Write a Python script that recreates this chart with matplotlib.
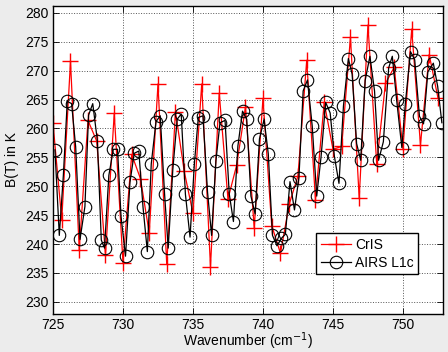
import matplotlib
matplotlib.use("Agg")
import matplotlib.pyplot as plt

plt.rcParams['font.family'] = ['Liberation Sans', 'DejaVu Sans']

# CrIS channels (0.625 cm-1 grid) and brightness temperatures
cris_wn = [725.0, 725.625, 726.25, 726.875, 727.5, 728.125, 728.75, 729.375, 730.0,
           730.625, 731.25, 731.875, 732.5, 733.125, 733.75, 734.375, 735.0, 735.625,
           736.25, 736.875, 737.5, 738.125, 738.75, 739.375, 740.0, 740.625, 741.25,
           741.875, 742.5, 743.125, 743.75, 744.375, 745.0, 745.625, 746.25, 746.875,
           747.5, 748.125, 748.75, 749.375, 750.0, 750.625, 751.25, 751.875, 752.5]
cris_bt = [260.9, 244.2, 271.6, 239.0, 261.4, 257.8, 238.1, 262.6, 236.8,
           255.5, 251.3, 241.9, 267.7, 236.5, 262.9, 252.6, 245.3, 267.7,
           236.1, 266.1, 247.8, 253.7, 263.7, 242.8, 265.2, 243.2, 238.4,
           246.9, 251.8, 271.8, 247.7, 264.5, 256.4, 256.9, 275.8, 247.9,
           277.9, 253.9, 267.8, 270.6, 256.5, 277.2, 257.2, 272.8, 265.3]

# AIRS L1c channels
airs_wn = [725.14, 725.45, 725.74, 726.02, 726.33, 726.62, 726.93, 727.28, 727.54, 727.84,
           728.17, 728.45, 728.68, 728.99, 729.31, 729.61, 729.86, 730.18, 730.5, 730.8,
           731.13, 731.43, 731.74, 732.02, 732.36, 732.66, 732.97, 733.23, 733.56, 733.87,
           734.16, 734.46, 734.79, 735.1, 735.38, 735.71, 736.04, 736.33, 736.64, 736.93,
           737.29, 737.59, 737.89, 738.21, 738.54, 738.84, 739.14, 739.44, 739.75, 740.08,
           740.38, 740.68, 741.0, 741.32, 741.6, 741.93, 742.25, 742.57, 742.87, 743.18,
           743.52, 743.84, 744.15, 744.48, 744.8, 745.1, 745.43, 745.75, 746.1, 746.37,
           746.69, 746.98, 747.3, 747.64, 747.97, 748.26, 748.6, 748.98, 749.24, 749.55,
           749.92, 750.17, 750.54, 750.84, 751.18, 751.47, 751.78, 752.17, 752.48, 752.78]
airs_bt = [256.3, 241.5, 251.9, 264.7, 264.3, 256.8, 240.8, 246.5, 262.3, 264.3,
           257.9, 240.7, 239.3, 251.9, 256.4, 256.4, 244.8, 237.9, 250.7, 255.7,
           256.1, 246.4, 238.7, 253.9, 261.2, 262.2, 248.7, 239.3, 252.9, 261.6,
           262.5, 248.6, 241.2, 253.9, 261.9, 262.2, 249.0, 241.5, 254.4, 261.0,
           261.4, 248.7, 243.9, 257.0, 263.0, 261.6, 248.3, 245.2, 258.2, 261.6,
           255.6, 241.5, 239.7, 241.0, 241.7, 250.8, 245.9, 251.5, 266.5, 268.4,
           260.4, 248.3, 255.1, 264.5, 262.7, 255.2, 250.5, 263.9, 272.1, 269.4,
           257.4, 254.5, 268.3, 272.5, 266.5, 254.5, 257.7, 270.5, 272.5, 264.9,
           256.7, 264.3, 273.3, 271.9, 262.1, 260.8, 269.8, 271.3, 267.3, 261.0]

x_ticks = [725, 730, 735, 740, 745, 750]
y_ticks = [230, 235, 240, 245, 250, 255, 260, 265, 270, 275, 280]

fig = plt.figure(figsize=(4.48, 3.52), dpi=100, facecolor='#ececec')
ax = fig.add_axes([0.1183, 0.108, 0.8705, 0.875])

ax.plot(cris_wn, cris_bt, color='red', lw=0.9, marker='+', ms=11, mew=1.0, label='CrIS')
ax.plot(airs_wn, airs_bt, color='black', lw=0.9, marker='o', ms=9, mfc='none',
        mew=0.8, label='AIRS L1c')

ax.set_xlim(725, 752.86)
ax.set_ylim(227.9, 281.2)
ax.set_xticks(x_ticks)
ax.set_yticks(y_ticks)
ax.grid(True, linestyle=':', color='#555555', lw=0.7)
ax.tick_params(direction='in', top=True, right=True, labelsize=10, length=4, width=0.6)
ax.tick_params(axis='x', pad=3)
for s in ax.spines.values():
    s.set_linewidth(1.0)

ax.set_xlabel('Wavenumber (cm$^{-1}$)', fontsize=10, labelpad=-1)
ax.set_ylabel('B(T) in K', fontsize=10, labelpad=4)

leg = ax.legend(loc='lower right', bbox_to_anchor=(0.936, 0.13), borderaxespad=0,
                fontsize=10, fancybox=False, framealpha=1, edgecolor='black',
                borderpad=0.3, handlelength=2.2, handletextpad=0.3, labelspacing=0.3)
leg.get_frame().set_linewidth(1.0)

fig.savefig('out.png', dpi=100, facecolor=fig.get_facecolor())
